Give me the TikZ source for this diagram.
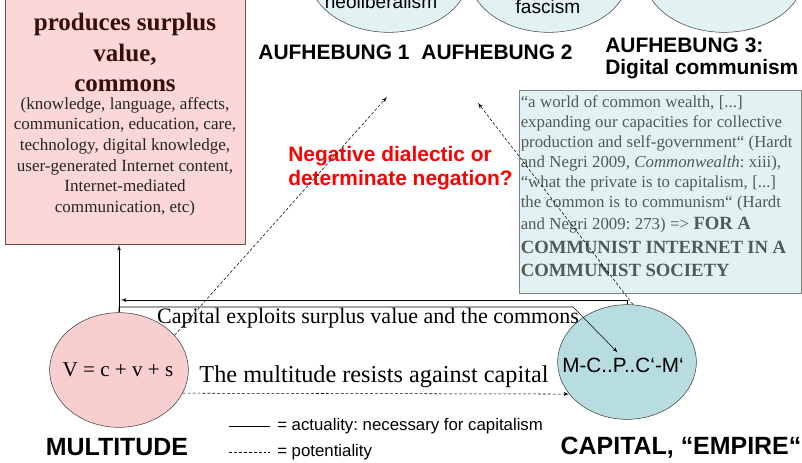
\documentclass[tikz,border=0pt]{standalone}
\usepackage{fontspec}
\setmainfont{Liberation Serif}
\setsansfont{Liberation Sans}
\usetikzlibrary{shapes,arrows,positioning}
\definecolor{commonspink}{HTML}{FCD7D7}
\definecolor{multpink}{HTML}{F8CECE}
\definecolor{capteal}{HTML}{B8DDE0}
\definecolor{palecyan}{HTML}{E2F2F2}
\definecolor{quotegray}{HTML}{4F5959}
\definecolor{headbrown}{HTML}{3A0C0C}
\definecolor{boxedge}{HTML}{7A4A4A}
\frenchspacing

\begin{document}
\begin{tikzpicture}[x=0.75pt,y=-0.75pt]
\tikzset{
commonsbox/.style={rectangle,draw=boxedge,fill=commonspink,minimum width=180pt,minimum height=190pt,inner sep=0pt},
commonstext/.style={text width=176pt,align=flush center,inner sep=0pt,text=headbrown},
topell/.style={ellipse,draw=black!75,fill=palecyan,minimum width=120pt,minimum height=86pt,inner sep=0pt},
bigell/.style={ellipse,draw=black!75,minimum width=104pt,minimum height=86pt,inner sep=0pt},
toptext/.style={font=\sffamily\fontsize{14.3}{17}\selectfont,inner sep=0pt,anchor=base},
aufhtext/.style={font=\sffamily\bfseries\fontsize{15.7}{16.5}\selectfont,inner sep=0pt},
quotebox/.style={rectangle,draw=black!50,fill=palecyan,minimum width=211.5pt,minimum height=152.25pt,inner sep=0pt},
quotetext/.style={text width=210pt,align=left,inner sep=0pt,text=quotegray},
redquestion/.style={text=red,font=\sffamily\bfseries\fontsize{15.7}{18}\selectfont,align=left,inner sep=0pt},
formula/.style={inner sep=0pt},
bigname/.style={font=\sffamily\bfseries\fontsize{18.7}{22}\selectfont,inner sep=0pt,anchor=base},
flowlabel/.style={font=\fontsize{16.5}{19}\selectfont,inner sep=0pt},
legendtext/.style={font=\sffamily\fontsize{12.6}{15}\selectfont,inner sep=0pt,anchor=west},
actarrow/.style={->,>=latex',thin},
potarrow/.style={->,>=latex',thin,dash pattern=on 2.2pt off 1.5pt},
actline/.style={thin},
potline/.style={thin,dash pattern=on 2.2pt off 1.5pt},
}
\clip (0,0) rectangle (802,463);

\node[commonsbox,anchor=south] (commons) at (125,245) {};
\node[commonstext,anchor=north] (commonslbl) at (125,13) {{\bfseries\fontsize{18.75}{23}\selectfont produces surplus\\ value,\\ commons\par}\vspace{-2.5pt}{\color{black!85}\fontsize{12.8}{15.45}\selectfont (knowledge, language, affects,\\ communication, education, care,\\ technology, digital knowledge,\\ user-generated Internet content,\\ Internet-mediated\\ communication, etc)\par}};

\node[topell] (aufh1ell) at (389,-25) {};
\node[topell] (aufh2ell) at (549,-25) {};
\node[topell] (aufh3ell) at (724,-25) {};
\node[toptext] (neolib) at (381,9) {neoliberalism};
\node[toptext] (fascism) at (548,14) {fascism};
\node[aufhtext,anchor=base] (aufh1) at (334,60) {AUFHEBUNG 1};
\node[aufhtext,anchor=base] (aufh2) at (497,60) {AUFHEBUNG 2};
\node[aufhtext,anchor=north west,align=left] (aufh3) at (605,38) {AUFHEBUNG 3:\\Digital communism};

\node[quotebox,anchor=north west] (quotebox) at (519,90) {};
\node[quotetext,anchor=north west] (quote) at (520.5,95.5) {{\fontsize{12.6}{15}\selectfont “a world of common wealth, [...]\\ expanding our capacities for collective\\ production and self-government“ (Hardt\\ and Negri 2009, \textit{Commonwealth}: xiii),\\ “what the private is to capitalism, [...]\\ the common is to communism“ (Hardt\\[1.5pt] and Negri 2009: 273) => {\bfseries\fontsize{14}{15}\selectfont FOR A}\par}{\bfseries\fontsize{14}{17.6}\selectfont COMMUNIST INTERNET IN A\\ COMMUNIST SOCIETY\par}};

\node[redquestion,anchor=west] (negation) at (288,168) {Negative dialectic or\\determinate negation?};

\node[bigell,fill=multpink] (mult) at (119,370) {};
\node[formula,font=\fontsize{15.8}{18}\selectfont] (vformula) at (118,370) {V = c + v + s};
\node[bigell,fill=capteal] (cap) at (627,362) {};
\node[formula,font=\sffamily\fontsize{15.5}{18}\selectfont] (circuit) at (623,365) {M-C..P..C‘-M‘};
\node[bigname] (multname) at (117,455) {MULTITUDE};
\node[bigname] (capname) at (681,454) {CAPITAL, “EMPIRE“};

\node[flowlabel] (exploits) at (368,318) {Capital exploits surplus value and the commons};
\node[flowlabel,font=\fontsize{18.2}{21}\selectfont] (resists) at (374,377) {The multitude resists against capital};

\coordinate (aufh1tip) at (387,97);
\coordinate (aufh2tip) at (478,103);
\coordinate (backtip) at (121,300);
\coordinate (bend) at (573,307);

\draw[actarrow] (mult.north) -- (mult.north |- commons.south);
\draw[actarrow] (cap.north) |- (backtip);
\draw[actarrow,shorten >=10pt] (mult.north) |- (bend) -- (cap.center);
\draw[potarrow] (mult.32) -- (aufh1tip);
\draw[potarrow] (cap.84) -- (aufh2tip);
\draw[potarrow] (mult.-20) -- (cap.-151);

\node[legendtext] (actlegend) at (277,426) {= actuality: necessary for capitalism};
\node[legendtext] (potlegend) at (277,452) {= potentiality};
\coordinate (actstart) at (229,426);
\coordinate (potstart) at (229,452);
\draw[actline] (actstart) -- ([xshift=-5pt]actlegend.west);
\draw[potline] (potstart) -- ([xshift=-5pt]potlegend.west);
\end{tikzpicture}
\end{document}
